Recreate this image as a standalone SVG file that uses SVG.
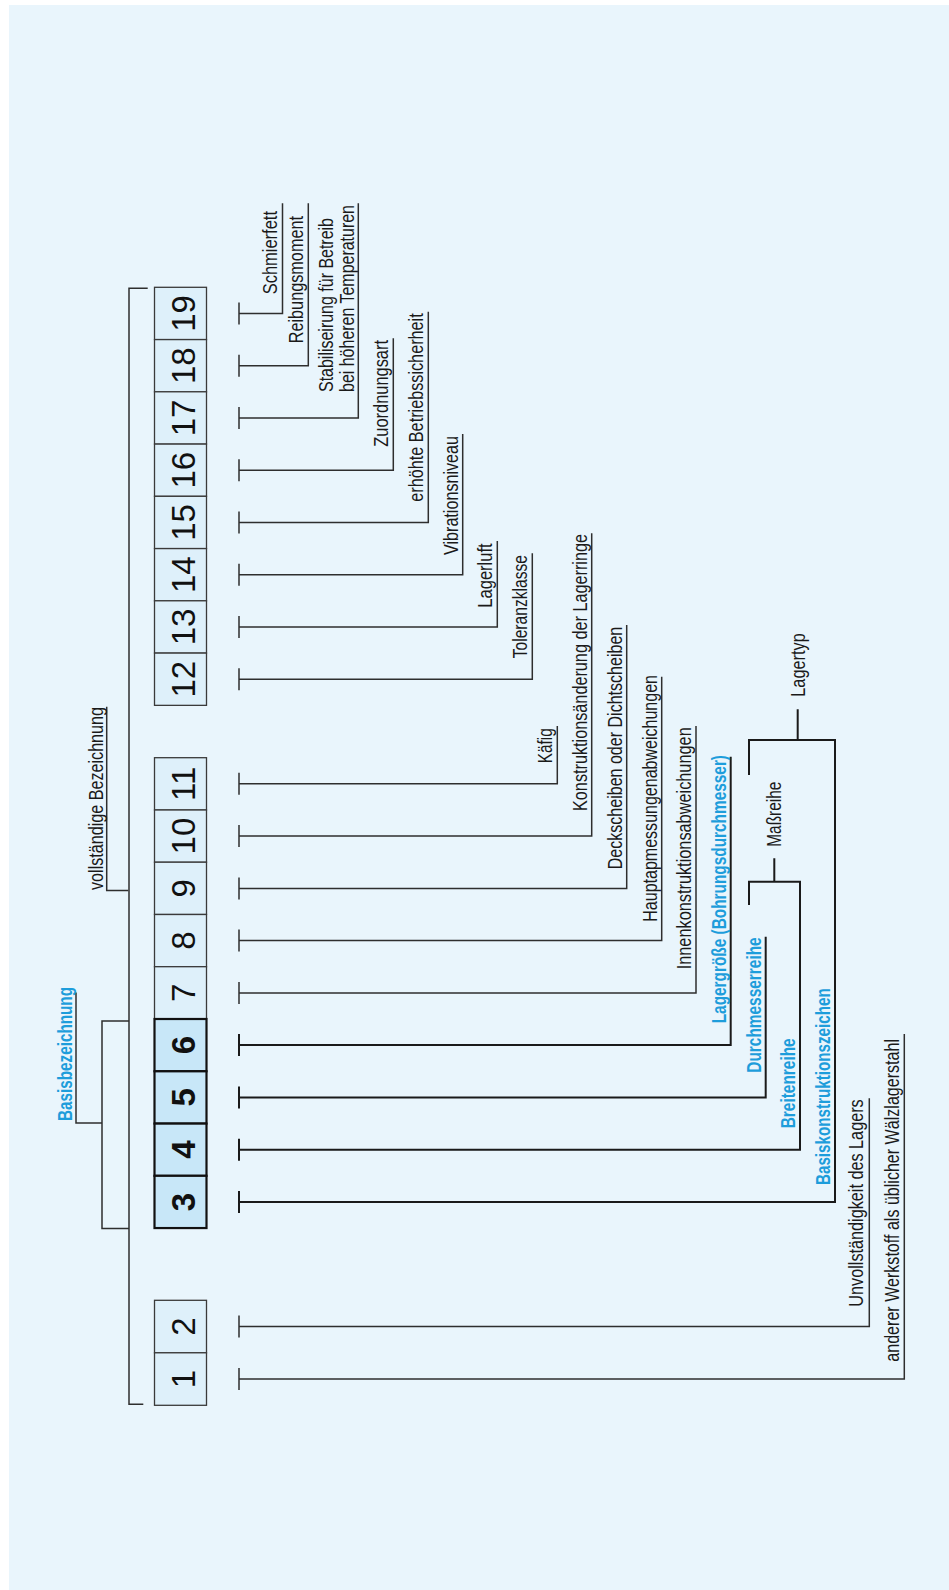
<svg xmlns="http://www.w3.org/2000/svg" width="949" height="1590" viewBox="0 0 949 1590">
<style>
.bg{fill:#e9f5fc}
.bx{fill:#def0fa;stroke:#3a3a3a;stroke-width:1.3}
.bxb{fill:#c8e7f8;stroke:#111;stroke-width:2.2}
.num{font-family:"Liberation Sans",Arial,sans-serif;font-size:33px;fill:#111;text-anchor:middle}
.numb{font-weight:bold}
.c{fill:none;stroke:#2e2e2e;stroke-width:1.5}
.cb{fill:none;stroke:#1a1a1a;stroke-width:2}
.t{font-family:"Liberation Sans",Arial,sans-serif;font-size:20px;fill:#1a1a1a}
.tb{font-family:"Liberation Sans",Arial,sans-serif;font-size:20px;font-weight:bold;fill:#1d9ddb}
</style>
<rect class="bg" x="9" y="5" width="940" height="1585"/>

<g id="connectors">
  <path class="c" d="M147.7 288.3H129V1404.3H143.3"/>
  <path class="c" d="M128.3 890.5H106.7V706.8"/>
  <path class="c" d="M129 1021H102V1228.5H129"/>
  <path class="c" d="M102 1122.9H76V992.5"/>
  <path class="c" d="M239 302.5V324.5M239 313.5H282.5V203.3"/>
  <path class="c" d="M239 354.7V376.7M239 365.7H308.3V203.3"/>
  <path class="c" d="M239 407V429M239 418H358.3V203.3"/>
  <path class="c" d="M239 459.2V481.2M239 470.2H393.3V338.3"/>
  <path class="c" d="M239 511.5V533.5M239 522.5H428.3V311.7"/>
  <path class="c" d="M239 563.7V585.7M239 574.7H462.7V434"/>
  <path class="c" d="M239 616V638M239 627H497.3V541"/>
  <path class="c" d="M239 668.2V690.2M239 679.2H532.3V553.3"/>
  <path class="c" d="M239 772.8V794.8M239 783.8H557.3V726"/>
  <path class="c" d="M239 825.1V847.1M239 836.1H591.7V533.3"/>
  <path class="c" d="M239 877.4V899.4M239 888.4H626.7V625"/>
  <path class="c" d="M239 929.6V951.6M239 940.6H661.7V676.7"/>
  <path class="c" d="M239 981.9V1003.9M239 992.9H696V726"/>
  <path class="cb" d="M239 1034.1V1056.1M239 1045.1H730.7V756.7"/>
  <path class="cb" d="M239 1086.4V1108.4M239 1097.4H765.7V936.7"/>
  <path class="cb" d="M239 1138.7V1160.7M239 1149.7H800V881.7H749V905M774.3 881.7V858.3"/>
  <path class="cb" d="M239 1191V1213M239 1202H835V740H749V775M797.7 740V709.3"/>
  <path class="c" d="M239 1315.5V1337.5M239 1326.5H869.3V1098.3"/>
  <path class="c" d="M239 1368V1390M239 1379H904.3V1034"/>
</g>

<g id="box-19"><rect class="bx" x="154.5" y="287.3" width="52" height="52.25"/><text class="num" transform="translate(195 313.5) rotate(-90)">19</text></g>
<g id="box-18"><rect class="bx" x="154.5" y="339.6" width="52" height="52.25"/><text class="num" transform="translate(195 365.7) rotate(-90)">18</text></g>
<g id="box-17"><rect class="bx" x="154.5" y="391.8" width="52" height="52.25"/><text class="num" transform="translate(195 418) rotate(-90)">17</text></g>
<g id="box-16"><rect class="bx" x="154.5" y="444.1" width="52" height="52.25"/><text class="num" transform="translate(195 470.2) rotate(-90)">16</text></g>
<g id="box-15"><rect class="bx" x="154.5" y="496.3" width="52" height="52.25"/><text class="num" transform="translate(195 522.5) rotate(-90)">15</text></g>
<g id="box-14"><rect class="bx" x="154.5" y="548.6" width="52" height="52.25"/><text class="num" transform="translate(195 574.7) rotate(-90)">14</text></g>
<g id="box-13"><rect class="bx" x="154.5" y="600.8" width="52" height="52.25"/><text class="num" transform="translate(195 627) rotate(-90)">13</text></g>
<g id="box-12"><rect class="bx" x="154.5" y="653.1" width="52" height="52.25"/><text class="num" transform="translate(195 679.2) rotate(-90)">12</text></g>

<g id="box-11"><rect class="bx" x="154.5" y="757.7" width="52" height="52.25"/><text class="num" transform="translate(195 783.8) rotate(-90)">11</text></g>
<g id="box-10"><rect class="bx" x="154.5" y="810" width="52" height="52.25"/><text class="num" transform="translate(195 836.1) rotate(-90)">10</text></g>
<g id="box-9"><rect class="bx" x="154.5" y="862.2" width="52" height="52.25"/><text class="num" transform="translate(195 888.4) rotate(-90)">9</text></g>
<g id="box-8"><rect class="bx" x="154.5" y="914.5" width="52" height="52.25"/><text class="num" transform="translate(195 940.6) rotate(-90)">8</text></g>
<g id="box-7"><rect class="bx" x="154.5" y="966.7" width="52" height="52.25"/><text class="num" transform="translate(195 992.9) rotate(-90)">7</text></g>

<g id="box-6"><rect class="bxb" x="154.5" y="1019" width="52" height="52.25"/><text class="num numb" transform="translate(195 1045.1) rotate(-90)">6</text></g>
<g id="box-5"><rect class="bxb" x="154.5" y="1071.3" width="52" height="52.25"/><text class="num numb" transform="translate(195 1097.4) rotate(-90)">5</text></g>
<g id="box-4"><rect class="bxb" x="154.5" y="1123.6" width="52" height="52.25"/><text class="num numb" transform="translate(195 1149.7) rotate(-90)">4</text></g>
<g id="box-3"><rect class="bxb" x="154.5" y="1175.8" width="52" height="52.25"/><text class="num numb" transform="translate(195 1202) rotate(-90)">3</text></g>

<g id="box-2"><rect class="bx" x="154.5" y="1300.3" width="52" height="52.5"/><text class="num" transform="translate(195 1326.5) rotate(-90)">2</text></g>
<g id="box-1"><rect class="bx" x="154.5" y="1352.8" width="52" height="52.5"/><text class="num" transform="translate(195 1379) rotate(-90)">1</text></g>

<g id="labels">
  <text class="t" transform="translate(277 294.3) rotate(-90)" textLength="83.3" lengthAdjust="spacingAndGlyphs">Schmierfett</text>
  <text class="t" transform="translate(303 343.3) rotate(-90)" textLength="127.3" lengthAdjust="spacingAndGlyphs">Reibungsmoment</text>
  <text class="t" transform="translate(333 392) rotate(-90)" textLength="174" lengthAdjust="spacingAndGlyphs">Stabiliseirung für Betreib</text>
  <text class="t" transform="translate(353.5 392) rotate(-90)" textLength="187" lengthAdjust="spacingAndGlyphs">bei höheren Temperaturen</text>
  <text class="t" transform="translate(388 446.7) rotate(-90)" textLength="106.7" lengthAdjust="spacingAndGlyphs">Zuordnungsart</text>
  <text class="t" transform="translate(423 501.7) rotate(-90)" textLength="188.4" lengthAdjust="spacingAndGlyphs">erhöhte Betriebssicherheit</text>
  <text class="t" transform="translate(457.5 555) rotate(-90)" textLength="119" lengthAdjust="spacingAndGlyphs">Vibrationsniveau</text>
  <text class="t" transform="translate(492 607.7) rotate(-90)" textLength="64.4" lengthAdjust="spacingAndGlyphs">Lagerluft</text>
  <text class="t" transform="translate(527 658.3) rotate(-90)" textLength="103.3" lengthAdjust="spacingAndGlyphs">Toleranzklasse</text>
  <text class="t" transform="translate(552 763.3) rotate(-90)" textLength="35" lengthAdjust="spacingAndGlyphs">Käfig</text>
  <text class="t" transform="translate(586.5 811) rotate(-90)" textLength="277" lengthAdjust="spacingAndGlyphs">Konstruktionsänderung der Lagerringe</text>
  <text class="t" transform="translate(621.5 869.3) rotate(-90)" textLength="242.6" lengthAdjust="spacingAndGlyphs">Deckscheiben oder Dichtscheiben</text>
  <text class="t" transform="translate(656.5 921.7) rotate(-90)" textLength="246.7" lengthAdjust="spacingAndGlyphs">Hauptapmessungenabweichungen</text>
  <text class="t" transform="translate(691 969.3) rotate(-90)" textLength="242" lengthAdjust="spacingAndGlyphs">Innenkonstruktionsabweichungen</text>
  <text class="tb" transform="translate(725.5 1023.3) rotate(-90)" textLength="268.3" lengthAdjust="spacingAndGlyphs">Lagergröße (Bohrungsdurchmesser)</text>
  <text class="tb" transform="translate(760.5 1072.7) rotate(-90)" textLength="135.4" lengthAdjust="spacingAndGlyphs">Durchmesserreihe</text>
  <text class="tb" transform="translate(795 1128.3) rotate(-90)" textLength="90" lengthAdjust="spacingAndGlyphs">Breitenreihe</text>
  <text class="t" transform="translate(780.5 846.7) rotate(-90)" textLength="65" lengthAdjust="spacingAndGlyphs">Maßreihe</text>
  <text class="tb" transform="translate(830 1185) rotate(-90)" textLength="196.7" lengthAdjust="spacingAndGlyphs">Basiskonstruktionszeichen</text>
  <text class="t" transform="translate(804.5 696.7) rotate(-90)" textLength="63.4" lengthAdjust="spacingAndGlyphs">Lagertyp</text>
  <text class="t" transform="translate(863 1306.7) rotate(-90)" textLength="207.4" lengthAdjust="spacingAndGlyphs">Unvollständigkeit des Lagers</text>
  <text class="t" transform="translate(899 1361.7) rotate(-90)" textLength="322.7" lengthAdjust="spacingAndGlyphs">anderer Werkstoff als üblicher Wälzlagerstahl</text>
  <text class="t" transform="translate(102.5 890) rotate(-90)" textLength="183" lengthAdjust="spacingAndGlyphs">vollständige Bezeichnung</text>
  <text class="tb" transform="translate(71.5 1121) rotate(-90)" textLength="134" lengthAdjust="spacingAndGlyphs">Basisbezeichnung</text>
</g>
</svg>
